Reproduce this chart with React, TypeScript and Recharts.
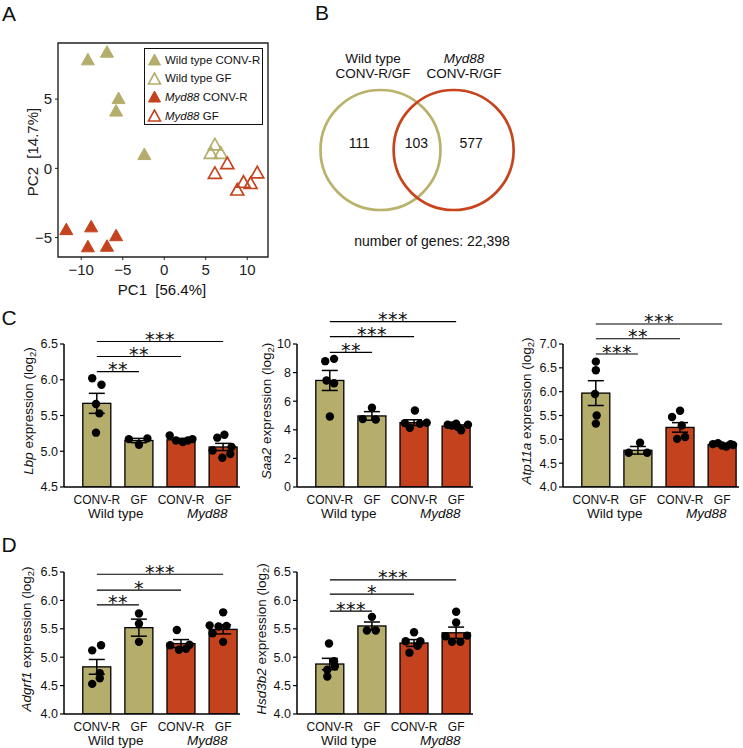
import React from 'react';
import {
  ComposedChart,
  ScatterChart,
  Bar,
  Cell,
  ErrorBar,
  Scatter,
  XAxis,
  YAxis,
  ReferenceLine,
  ReferenceArea,
} from 'recharts';

const FONT = '"Liberation Sans", Arial, Helvetica, sans-serif';
const TAN = '#b5ad6b';
const RED = '#c4431e';

// ---------- A: PCA ----------
const wtConvR = [[-9.2, 7.8], [-6.9, 8.35], [-5.5, 5.0], [-5.8, 4.1], [-2.4, 0.96]];
const wtGF = [[6.1, 1.66], [5.6, 1.05], [6.8, 1.05]];
const myConvR = [[-11.8, -4.46], [-8.8, -4.26], [-9.2, -5.7], [-6.9, -5.66], [-5.8, -4.9]];
const myGF = [[6.1, -0.4], [7.6, 0.3], [8.8, -1.6], [9.55, -1.04], [10.4, -1.13], [11.2, -0.36]];
const pcaTicksX = [-10, -5, 0, 5, 10];
const pcaTicksY = [-5, 0, 5];

// ---------- B: Venn ----------
const vennSetX = [0, 1];
const vennCounts = [111, 103, 577];
const vennRegionX = [-0.29, 0.49, 1.24];

// ---------- C / D: bar panels ----------
const CONDITIONS = ['CONV-R', 'GF', 'CONV-R', 'GF'];
const GROUPS = ['Wild type', 'Myd88'];
const GROUP_TICKS = [0.45, 2.62];

const lbpMeans = [5.67, 5.15, 5.16, 5.06];
const lbpSems = [0.14, 0.03, 0.02, 0.05];
const lbpDots = [
  [6.02, 5.93, 5.66, 5.53, 5.26],
  [5.17, 5.09, 5.18],
  [5.22, 5.15, 5.13, 5.15, 5.17],
  [5.19, 5.23, 5.01, 5.06, 4.96, 4.91],
];
const lbpJitter = [
  [-0.11, 0.11, -0.02, 0.06, -0.02],
  [-0.24, 0, 0.2],
  [-0.27, -0.12, 0.04, 0.16, 0.27],
  [-0.14, 0.03, -0.25, 0.2, 0.17, -0.02],
];

const saaMeans = [7.45, 4.97, 4.5, 4.26];
const saaSems = [0.7, 0.3, 0.2, 0.08];
const saaDots = [
  [8.8, 8.96, 7.45, 7.26, 4.93],
  [4.75, 5.54, 4.72],
  [4.47, 5.35, 4.14, 4.42, 4.49],
  [4.35, 4.42, 3.96, 4.35, 4.2, 4.3],
];
const saaJitter = [
  [-0.11, 0.1, -0.08, 0.1, 0],
  [-0.22, 0, 0.09],
  [-0.22, 0.02, -0.1, 0.14, 0.3],
  [-0.2, 0, 0.12, 0.28, 0.04, -0.1],
];

const atpMeans = [5.97, 4.77, 5.25, 4.89];
const atpSems = [0.26, 0.08, 0.1, 0.02];
const atpDots = [
  [6.63, 6.45, 5.95, 5.5, 5.33],
  [4.72, 4.93, 4.72],
  [5.6, 5.47, 5.29, 5.01, 5.05],
  [4.9, 4.92, 4.87, 4.85, 4.9, 4.88],
];
const atpJitter = [
  [0, 0, -0.02, 0.02, 0],
  [-0.22, 0.05, 0.22],
  [0, -0.19, 0.04, -0.07, 0.12],
  [-0.22, -0.1, 0, 0.1, 0.2, 0.26],
];

const adgMeans = [4.83, 5.52, 5.24, 5.49];
const adgSems = [0.13, 0.15, 0.07, 0.08];
const adgDots = [
  [5.21, 5.12, 4.72, 4.53, 4.63],
  [5.77, 5.59, 5.27],
  [5.48, 5.21, 5.13, 5.15, 5.22],
  [5.79, 5.56, 5.54, 5.55, 5.42, 5.27],
];
const adgJitter = [
  [0.1, -0.11, 0.07, -0.11, 0.07],
  [0, 0, 0],
  [-0.1, -0.26, -0.05, 0.12, 0.2],
  [0, -0.32, -0.11, 0.08, -0.25, 0],
];

const hsdMeans = [4.88, 5.55, 5.25, 5.43];
const hsdSems = [0.1, 0.07, 0.06, 0.1];
const hsdDots = [
  [5.24, 4.93, 4.78, 4.84, 4.66],
  [5.71, 5.47, 5.47],
  [5.44, 5.28, 5.28, 5.08, 5.2],
  [5.8, 5.61, 5.37, 5.38, 5.27, 5.27],
];
const hsdJitter = [
  [-0.02, 0.1, -0.06, 0.12, -0.06],
  [0, -0.12, 0.09],
  [0, -0.2, 0.15, -0.11, 0.08],
  [0, 0, -0.25, 0.26, -0.1, 0.1],
];

// significance brackets: to = comparison group, y = height, stars
const lbpSig = [{ to: 1, y: 6.115, s: '**' }, { to: 2, y: 6.325, s: '**' }, { to: 3, y: 6.535, s: '***' }];
const saaSig = [{ to: 1, y: 9.42, s: '**' }, { to: 2, y: 10.52, s: '***' }, { to: 3, y: 11.56, s: '***' }];
const atpSig = [{ to: 1, y: 6.79, s: '***' }, { to: 2, y: 7.11, s: '**' }, { to: 3, y: 7.42, s: '***' }];
const adgSig = [{ to: 1, y: 5.92, s: '**' }, { to: 2, y: 6.18, s: '*' }, { to: 3, y: 6.46, s: '***' }];
const hsdSig = [{ to: 1, y: 5.81, s: '***' }, { to: 2, y: 6.11, s: '*' }, { to: 3, y: 6.36, s: '***' }];

const minus = (v: number) => String(v).replace('-', '\u2212');

function Txt({ x, y, size = 13, children, italic = false }: any) {
  return (
    <div
      style={{
        position: 'absolute',
        left: x,
        top: y,
        transform: 'translate(-50%,-50%)',
        fontSize: size,
        lineHeight: 1,
        whiteSpace: 'pre',
        fontStyle: italic ? 'italic' : 'normal',
        color: '#111',
      }}
    >
      {children}
    </div>
  );
}

const triangle = (color: string, open: boolean) => (p: any) => {
  const { cx, cy } = p;
  if (cx == null || cy == null) return <g />;
  const pts = `${cx},${cy - 7} ${cx - 6.5},${cy + 4.5} ${cx + 6.5},${cy + 4.5}`;
  return <polygon points={pts} fill={open ? 'none' : color} stroke={color} strokeWidth={open ? 1.7 : 1} />;
};

function PcaPanel() {
  const series = [
    { pts: wtConvR, color: TAN, open: false },
    { pts: wtGF, color: TAN, open: true },
    { pts: myConvR, color: RED, open: false },
    { pts: myGF, color: RED, open: true },
  ];
  const legend = [
    { color: TAN, open: false, label: <>Wild type CONV-R</> },
    { color: TAN, open: true, label: <>Wild type GF</> },
    { color: RED, open: false, label: <><i>Myd88</i> CONV-R</> },
    { color: RED, open: true, label: <><i>Myd88</i> GF</> },
  ];
  return (
    <>
      <div style={{ position: 'absolute', left: 0, top: 0 }}>
        <ScatterChart width={290} height={300} margin={{ top: 43, right: 22, bottom: 0, left: 0 }}>
          <XAxis
            type="number"
            dataKey="x"
            domain={[-12.8, 12.5]}
            ticks={pcaTicksX}
            allowDataOverflow
            axisLine={false}
            tickSize={3}
            tickMargin={4}
            height={43}
            interval={0}
            tickLine={{ stroke: '#222' }}
            tick={{ fontSize: 15, fill: '#222', fontFamily: FONT }}
            tickFormatter={minus}
          />
          <YAxis
            type="number"
            dataKey="y"
            domain={[-6.4, 9.05]}
            ticks={pcaTicksY}
            allowDataOverflow
            axisLine={false}
            tickSize={3}
            tickMargin={3}
            width={58}
            interval={0}
            tickLine={{ stroke: '#222' }}
            tick={{ fontSize: 15, fill: '#222', fontFamily: FONT }}
            tickFormatter={minus}
          />
          <ReferenceArea x1={-12.8} x2={12.5} y1={-6.4} y2={9.05} fill="none" stroke="#222" strokeWidth={1.4} ifOverflow="visible" />
          {series.map((s, i) => (
            <Scatter
              key={i}
              data={s.pts.map(([x, y]) => ({ x, y }))}
              shape={triangle(s.color, s.open)}
              isAnimationActive={false}
            />
          ))}
        </ScatterChart>
      </div>
      <div
        style={{
          position: 'absolute',
          left: 144,
          top: 48,
          width: 119,
          height: 77,
          border: '1.5px solid #111',
          boxSizing: 'border-box',
          background: '#fff',
        }}
      >
        {legend.map((l, i) => (
          <div key={i} style={{ position: 'absolute', left: 2, top: 2 + i * 18.7, height: 17, display: 'flex', alignItems: 'center', fontSize: 11.5, whiteSpace: 'nowrap', color: '#111' }}>
            <svg width={15} height={13} style={{ marginRight: 3 }}>
              <polygon points="7.5,1 1.5,12 13.5,12" fill={l.open ? 'none' : l.color} stroke={l.color} strokeWidth={l.open ? 1.6 : 1} />
            </svg>
            <span>{l.label}</span>
          </div>
        ))}
      </div>
      <div
        style={{
          position: 'absolute',
          left: 32,
          top: 152,
          transform: 'translate(-50%,-50%) rotate(-90deg)',
          fontSize: 15,
          lineHeight: 1,
          whiteSpace: 'pre',
          color: '#222',
        }}
      >
        {'PC2  [14.7%]'}
      </div>
      <Txt x={162} y={289} size={15}>{'PC1  [56.4%]'}</Txt>
    </>
  );
}

function VennPanel() {
  const sets = vennSetX.map((x, i) => ({ x, y: 0, i }));
  const counts = vennCounts.map((n, i) => ({ x: vennRegionX[i], y: 0.12, n }));
  return (
    <>
      <div style={{ position: 'absolute', left: 300, top: 80 }}>
        <ScatterChart width={240} height={140} margin={{ top: 0, right: 0, bottom: 0, left: 0 }}>
          <XAxis type="number" dataKey="x" domain={[-1.1, 2.18]} hide allowDataOverflow />
          <YAxis type="number" dataKey="y" domain={[-1.17, 1.17]} hide allowDataOverflow />
          <Scatter
            data={sets}
            isAnimationActive={false}
            shape={(p: any) => (
              <circle cx={p.cx} cy={p.cy} r={60} fill="none" stroke={p.payload.i === 0 ? '#b9b26c' : '#c8441c'} strokeWidth={2.7} />
            )}
          />
          <Scatter
            data={counts}
            isAnimationActive={false}
            shape={(p: any) => (
              <text x={p.cx} y={p.cy + 5} textAnchor="middle" fontSize={14} fontFamily={FONT} fill="#111">
                {p.payload.n}
              </text>
            )}
          />
        </ScatterChart>
      </div>
      <Txt x={373} y={58.5} size={13.5}>Wild type</Txt>
      <Txt x={373} y={74} size={13.5}>CONV-R/GF</Txt>
      <Txt x={464} y={58.5} size={13.5} italic>Myd88</Txt>
      <Txt x={464} y={74} size={13.5}>CONV-R/GF</Txt>
      <Txt x={432} y={241} size={14}>number of genes: 22,398</Txt>
    </>
  );
}

const YW = 60;
const MT = 44;
const XH1 = 20;
const XH2 = 24;
const PW = 176;
const MR = 6;
const X_DOMAIN: [number, number] = [-0.78, 3.4];

const ConditionTick = (props: any) => {
  const { x, y, payload } = props;
  return (
    <text x={x} y={y + 16.8} textAnchor="middle" fontSize={12} fontFamily={FONT} fill="#111">
      {CONDITIONS[payload.value]}
    </text>
  );
};

const GroupTick = (props: any) => {
  const { x, y, index } = props;
  return (
    <text x={x} y={y + 11.2} textAnchor="middle" fontSize={13.5} fontFamily={FONT} fill="#111" fontStyle={index === 1 ? 'italic' : 'normal'}>
      {GROUPS[index]}
    </text>
  );
};

const starLabel = (s: string) => (props: any) => {
  const vb = props.viewBox;
  if (!vb) return null;
  return (
    <text x={vb.x + vb.width / 2} y={vb.y + 4.5} textAnchor="middle" fontSize={19} fontFamily="DejaVu Sans" letterSpacing={0.5} fill="#111">
      {s}
    </text>
  );
};

const dotShape = (p: any) => <circle cx={p.cx} cy={p.cy} r={4.2} fill="#000" />;

// bars on a number axis get no band width, so draw them 28px wide around their centre
const barShape = (p: any) => {
  const cx = p.x + (p.width || 0) / 2;
  const h = Math.abs(p.height);
  const y = Math.min(p.y, p.y + p.height);
  return <rect x={cx - 14} y={y} width={28} height={h} fill={p.fill} stroke="#000" strokeWidth={1.3} />;
};

interface PanelProps {
  left: number;
  top: number;
  bottom: number;
  domain: [number, number];
  ticks: number[];
  digits: number;
  means: number[];
  sems: number[];
  dots: number[][];
  jitter: number[][];
  sig: { to: number; y: number; s: string }[];
  gene: string;
  labelX: number;
}

function BarPanel(p: PanelProps) {
  const ph = p.bottom - p.top;
  const barData = p.means.map((m, i) => ({ x: i, mean: m, sem: p.sems[i] }));
  const dotData = p.dots.flatMap((vals, i) => vals.map((v, k) => ({ x: i + p.jitter[i][k], y: v })));
  return (
    <>
      <div style={{ position: 'absolute', left: p.left - YW, top: p.top - MT }}>
        <ComposedChart
          width={YW + PW + MR}
          height={MT + ph + XH1 + XH2}
          margin={{ top: MT, right: MR, bottom: 0, left: 0 }}
          data={barData}
        >
          <XAxis
            xAxisId="a_cond"
            type="number"
            dataKey="x"
            domain={X_DOMAIN}
            ticks={[0, 1, 2, 3]}
            allowDataOverflow
            interval={0}
            tickLine={false}
            tickSize={0}
            tickMargin={0}
            height={XH1}
            axisLine={{ stroke: '#000', strokeWidth: 1.5 }}
            tick={<ConditionTick />}
          />
          <XAxis
            xAxisId="b_group"
            type="number"
            dataKey="x"
            domain={X_DOMAIN}
            ticks={GROUP_TICKS}
            allowDataOverflow
            interval={0}
            axisLine={false}
            tickLine={false}
            tickSize={0}
            tickMargin={0}
            height={XH2}
            tick={<GroupTick />}
          />
          <YAxis
            type="number"
            domain={p.domain}
            ticks={p.ticks}
            allowDataOverflow
            interval={0}
            width={YW}
            tickSize={4}
            tickMargin={2}
            axisLine={{ stroke: '#000', strokeWidth: 1.5 }}
            tickLine={{ stroke: '#000', strokeWidth: 1.2 }}
            tick={{ fontSize: 12.5, fill: '#111', fontFamily: FONT }}
            tickFormatter={(v: number) => v.toFixed(p.digits)}
          />
          <Bar xAxisId="a_cond" dataKey="mean" barSize={28} shape={barShape} isAnimationActive={false}>
            {barData.map((d, i) => (
              <Cell key={i} fill={i < 2 ? TAN : RED} />
            ))}
            <ErrorBar dataKey="sem" width={8} stroke="#000" strokeWidth={1.5} direction="y" />
          </Bar>
          <Scatter xAxisId="a_cond" data={dotData} dataKey="y" shape={dotShape} isAnimationActive={false} />
          {p.sig.map((b, i) => (
            <ReferenceLine
              key={i}
              xAxisId="a_cond"
              segment={[{ x: 0, y: b.y }, { x: b.to, y: b.y }]}
              stroke="#000"
              strokeWidth={1.2}
              ifOverflow="visible"
              label={starLabel(b.s)}
            />
          ))}
        </ComposedChart>
      </div>
      <div
        style={{
          position: 'absolute',
          left: p.labelX,
          top: (p.top + p.bottom) / 2 - 4,
          transform: 'translate(-50%,-50%) rotate(-90deg)',
          fontSize: 13.5,
          lineHeight: 1,
          whiteSpace: 'nowrap',
          color: '#111',
        }}
      >
        <i>{p.gene}</i> expression (log<span style={{ fontSize: '70%', verticalAlign: '-0.3em' }}>2</span>)
      </div>
    </>
  );
}

export default function App() {
  return (
    <div style={{ position: 'absolute', left: 0, top: 0, width: 743, height: 748, background: '#fff', fontFamily: FONT, overflow: 'hidden' }}>
      <Txt x={9} y={12.5} size={21}>A</Txt>
      <Txt x={322} y={12} size={21}>B</Txt>
      <Txt x={9} y={316.5} size={21}>C</Txt>
      <Txt x={9} y={543.5} size={21}>D</Txt>
      <PcaPanel />
      <VennPanel />
      <BarPanel left={64} top={343.5} bottom={486.5} domain={[4.5, 6.5]} ticks={[4.5, 5, 5.5, 6, 6.5]} digits={1}
        means={lbpMeans} sems={lbpSems} dots={lbpDots} jitter={lbpJitter} sig={lbpSig} gene="Lbp" labelX={30} />
      <BarPanel left={297} top={343.5} bottom={486.5} domain={[0, 10]} ticks={[0, 2, 4, 6, 8, 10]} digits={0}
        means={saaMeans} sems={saaSems} dots={saaDots} jitter={saaJitter} sig={saaSig} gene="Saa2" labelX={268} />
      <BarPanel left={563} top={343.5} bottom={486.5} domain={[4, 7]} ticks={[4, 4.5, 5, 5.5, 6, 6.5, 7]} digits={1}
        means={atpMeans} sems={atpSems} dots={atpDots} jitter={atpJitter} sig={atpSig} gene="Atp11a" labelX={528} />
      <BarPanel left={64} top={572} bottom={714} domain={[4, 6.5]} ticks={[4, 4.5, 5, 5.5, 6, 6.5]} digits={1}
        means={adgMeans} sems={adgSems} dots={adgDots} jitter={adgJitter} sig={adgSig} gene="Adgrf1" labelX={28} />
      <BarPanel left={297} top={572} bottom={714} domain={[4, 6.5]} ticks={[4, 4.5, 5, 5.5, 6, 6.5]} digits={1}
        means={hsdMeans} sems={hsdSems} dots={hsdDots} jitter={hsdJitter} sig={hsdSig} gene="Hsd3b2" labelX={263} />
    </div>
  );
}
